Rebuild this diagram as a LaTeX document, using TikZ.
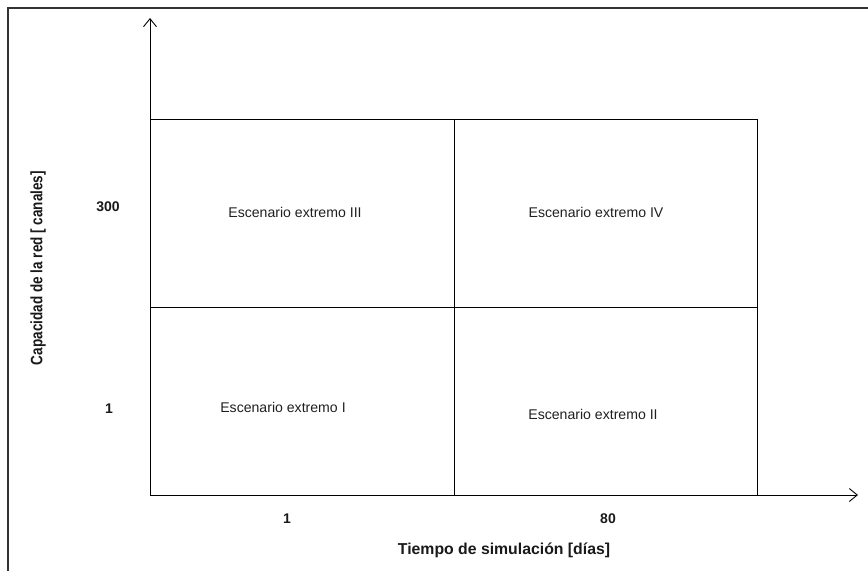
\documentclass[tikz,border=0pt]{standalone}
\usepackage{fontspec}
\setmainfont{Liberation Sans}
\usetikzlibrary{arrows.meta}

\begin{document}
\begin{tikzpicture}[x=1pt,y=-1pt,>={Straight Barb[length=8pt,width=13pt]},
                    line width=0.9pt,
                    scen/.style={font=\fontsize{14.1}{16}\selectfont,text=black!88},
                    tick/.style={font=\bfseries\fontsize{14}{16}\selectfont,text=black!90},
                    axislabel/.style={font=\bfseries\fontsize{15.8}{18}\selectfont,text=black!90}]

 \useasboundingbox (0,0) rectangle (868,571);
 \draw[black!80,line width=1.3pt] (8,571) -- (8,8) -- (868,8);

 \coordinate (O)    at (150,495);
 \coordinate (Ytop) at (150,18);
 \coordinate (Xend) at (858,495);

 \draw[->] (O) -- (Ytop);
 \draw[->] (O) -- (Xend);

 \draw (150,119) rectangle (757,495);
 \draw (454,119) -- (454,495);
 \draw (150,307) -- (757,307);

 \node[scen] (s3) at (295,212) {Escenario extremo III};
 \node[scen] (s4) at (596,212) {Escenario extremo IV};
 \node[scen] (s1) at (283,407) {Escenario extremo I};
 \node[scen] (s2) at (593,414) {Escenario extremo II};

 \node[tick] (y300) at (108,207) {300};
 \node[tick] (y1)   at (109,409) {1};
 \node[tick] (x1)   at (287,519) {1};
 \node[tick] (x80)  at (608,519) {80};

 \node[axislabel] (xlab) at (504,550) {Tiempo de simulación [días]};
 \node[axislabel,rotate=90] (ylab) at (38,268)
      {\scalebox{0.82}[1]{\fontsize{16.5}{18}\selectfont Capacidad de la red [ canales]}};

\end{tikzpicture}
\end{document}
